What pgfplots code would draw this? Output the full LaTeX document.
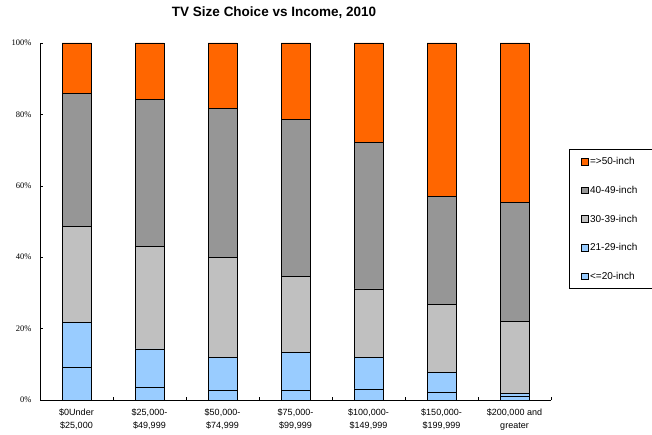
\documentclass[border=0pt]{standalone}
\usepackage{fontspec}
\setmainfont{Liberation Sans}
\newfontfamily\seriffont{Liberation Serif}
\usepackage{pgfplots}
\usepackage{pgfplotstable}
\pgfplotsset{compat=1.18}
\definecolor{cOrange}{HTML}{FF6600}
\definecolor{cDark}{HTML}{969696}
\definecolor{cLight}{HTML}{C0C0C0}
\definecolor{cBlue}{HTML}{99CCFF}
\pgfplotstableread{
x le20 r21 r30 r40 ge50
0 9.2 12.6 26.9 37.2 14.1
1 3.6 10.7 28.6 41.3 15.8
2 2.7 9.3 27.9 41.7 18.4
3 2.7 10.7 21.3 43.8 21.5
4 3.1 8.7 19.3 41.0 27.9
5 2.0 5.8 19.0 30.1 43.1
6 1.1 0.8 20.0 33.5 44.6
}\datatable
\begin{document}
\begin{tikzpicture}
\useasboundingbox (0,0) rectangle (652pt,434pt);
\begin{axis}[
  at={(40pt,34pt)}, anchor=south west,
  scale only axis, width=511pt, height=357pt,
  ybar stacked, bar width=29pt,
  xmin=-0.5, xmax=6.5, ymin=0, ymax=100,
  axis lines*=left,
  axis line style={black, line width=0.8pt},
  tick align=inside,
  xtick={0,1,2,3,4,5,6},
  xticklabels={{\$0Under\\\$25,000},{\$25,000-\\\$49,999},{\$50,000-\\\$74,999},{\$75,000-\\\$99,999},{\$100,000-\\\$149,999},{\$150,000-\\\$199,999},{\$200,000 and\\greater}},
  xticklabel style={align=center, font=\fontsize{9}{13.3}\selectfont, yshift=-5pt},
  major x tick style={draw=none},
  minor xtick={-0.5,0.5,1.5,2.5,3.5,4.5,5.5,6.5},
  minor tick length=3pt,
  minor x tick style={black, line width=0.6pt},
  ytick={0,20,40,60,80,100},
  yticklabel={\pgfmathprintnumber{\tick}\%},
  /pgf/number format/assume math mode=true,
  yticklabel style={font=\seriffont\fontsize{8.5}{10}\selectfont, xshift=-5pt},
  major tick length=3pt,
  major y tick style={black, line width=0.6pt},
  title={TV Size Choice vs Income, 2010},
  title style={font=\bfseries\fontsize{13.5}{15}\selectfont, at={(0.458,1)}, anchor=base, yshift=20pt},
  every axis plot/.append style={draw=black, line width=0.8pt},
  reverse legend,
  legend cell align=left,
  legend image code/.code={\draw[#1, line width=0.6pt] (0pt,-3.3pt) rectangle (6.7pt,3.3pt);},
  legend style={at={(1.0352,0.703)}, anchor=north west, draw=black, line width=0.6pt,
    font=\fontsize{10}{11}\selectfont, row sep=17.6pt, inner xsep=12pt, inner ysep=7pt,
    nodes={inner sep=1.5pt, text height=7pt, text depth=1pt, text width=52pt}},
]
\addplot[fill=cBlue] table[x=x, y=le20] {\datatable};
\addplot[fill=cBlue] table[x=x, y=r21] {\datatable};
\addplot[fill=cLight] table[x=x, y=r30] {\datatable};
\addplot[fill=cDark] table[x=x, y=r40] {\datatable};
\addplot[fill=cOrange] table[x=x, y=ge50] {\datatable};
\legend{<=20-inch, 21-29-inch, 30-39-inch, 40-49-inch, =>50-inch}
\end{axis}
\end{tikzpicture}
\end{document}
